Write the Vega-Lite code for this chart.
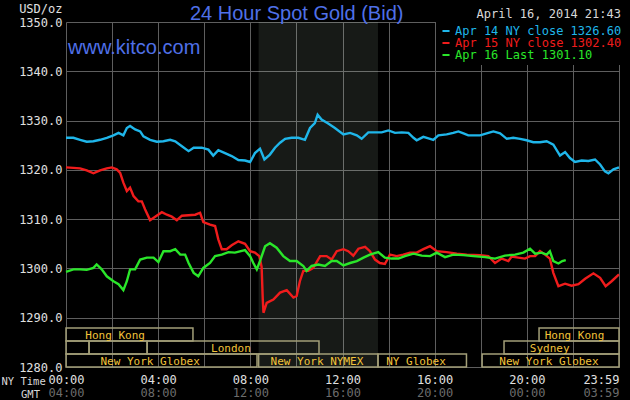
{
  "$schema": "https://vega.github.io/schema/vega-lite/v6.json",
  "width": 553,
  "height": 345,
  "autosize": {"type": "none"},
  "padding": {"left": 66, "top": 22, "right": 11, "bottom": 33},
  "background": "#000000",
  "config": {
    "view": {"stroke": null},
    "axis": {"domain": false, "ticks": false, "tickSize": 0, "labelFont": "DejaVu Sans Mono", "labelFontSize": 12, "titleFont": "DejaVu Sans Mono", "titleFontSize": 12, "titleFontWeight": "normal"}
  },
  "title": {
    "text": "24 Hour Spot Gold (Bid)",
    "font": "Liberation Sans",
    "fontSize": 20,
    "fontWeight": "normal",
    "color": "#4f70e8",
    "anchor": "start",
    "frame": "group",
    "dx": 124,
    "dy": 24,
    "offset": 2
  },
  "datasets": {
    "sessions": [
      {"name": "Hong Kong", "row": "r1", "start": 0, "end": 5.51, "label_at": 2.13},
      {"name": "Hong Kong", "row": "r1", "start": 20.53, "end": 24, "label_at": 22.07},
      {"name": "", "row": "r2", "start": 0, "end": 1.0, "label_at": 0.5},
      {"name": "", "row": "r2", "start": 1.0, "end": 3.52, "label_at": 2.3},
      {"name": "London", "row": "r2", "start": 3.52, "end": 10.98, "label_at": 7.16},
      {"name": "Sydney", "row": "r2", "start": 19.01, "end": 24, "label_at": 20.99},
      {"name": "New York Globex", "row": "r3", "start": 0, "end": 8.29, "label_at": 3.65},
      {"name": "New York NYMEX", "row": "r3", "start": 8.36, "end": 13.54, "label_at": 10.89},
      {"name": "NY Globex", "row": "r3", "start": 13.54, "end": 17.38, "label_at": 15.19},
      {"name": "New York Globex", "row": "r3", "start": 18.06, "end": 24, "label_at": 20.96}
    ],
    "prices": [
      {"d": "Apr 14", "h": 0, "v": 1326.5}, {"d": "Apr 14", "h": 0.32, "v": 1326.5}, {"d": "Apr 14", "h": 0.61, "v": 1326.1}, {"d": "Apr 14", "h": 0.9, "v": 1325.7}, {"d": "Apr 14", "h": 1.19, "v": 1325.8}, {"d": "Apr 14", "h": 1.48, "v": 1326.1}, {"d": "Apr 14", "h": 1.77, "v": 1326.5}, {"d": "Apr 14", "h": 2.06, "v": 1327.0}, {"d": "Apr 14", "h": 2.28, "v": 1327.5}, {"d": "Apr 14", "h": 2.49, "v": 1327.0}, {"d": "Apr 14", "h": 2.64, "v": 1328.5}, {"d": "Apr 14", "h": 2.78, "v": 1328.9}, {"d": "Apr 14", "h": 3.0, "v": 1328.2}, {"d": "Apr 14", "h": 3.22, "v": 1327.8}, {"d": "Apr 14", "h": 3.36, "v": 1326.8}, {"d": "Apr 14", "h": 3.65, "v": 1326.1}, {"d": "Apr 14", "h": 3.94, "v": 1325.7}, {"d": "Apr 14", "h": 4.23, "v": 1325.8}, {"d": "Apr 14", "h": 4.52, "v": 1326.1}, {"d": "Apr 14", "h": 4.74, "v": 1325.8}, {"d": "Apr 14", "h": 5.03, "v": 1324.8}, {"d": "Apr 14", "h": 5.32, "v": 1323.8}, {"d": "Apr 14", "h": 5.54, "v": 1324.5}, {"d": "Apr 14", "h": 5.89, "v": 1324.5}, {"d": "Apr 14", "h": 6.18, "v": 1324.1}, {"d": "Apr 14", "h": 6.39, "v": 1322.9}, {"d": "Apr 14", "h": 6.61, "v": 1324.0}, {"d": "Apr 14", "h": 6.9, "v": 1323.4}, {"d": "Apr 14", "h": 7.19, "v": 1322.8}, {"d": "Apr 14", "h": 7.48, "v": 1322.0}, {"d": "Apr 14", "h": 7.77, "v": 1321.9}, {"d": "Apr 14", "h": 7.99, "v": 1321.6}, {"d": "Apr 14", "h": 8.2, "v": 1323.4}, {"d": "Apr 14", "h": 8.42, "v": 1324.3}, {"d": "Apr 14", "h": 8.61, "v": 1322.1}, {"d": "Apr 14", "h": 8.85, "v": 1323.1}, {"d": "Apr 14", "h": 9.07, "v": 1324.5}, {"d": "Apr 14", "h": 9.29, "v": 1325.5}, {"d": "Apr 14", "h": 9.51, "v": 1326.3}, {"d": "Apr 14", "h": 9.79, "v": 1326.5}, {"d": "Apr 14", "h": 10.08, "v": 1326.5}, {"d": "Apr 14", "h": 10.37, "v": 1326.1}, {"d": "Apr 14", "h": 10.59, "v": 1328.5}, {"d": "Apr 14", "h": 10.8, "v": 1329.5}, {"d": "Apr 14", "h": 10.92, "v": 1331.2}, {"d": "Apr 14", "h": 11.09, "v": 1330.2}, {"d": "Apr 14", "h": 11.38, "v": 1329.4}, {"d": "Apr 14", "h": 11.67, "v": 1328.5}, {"d": "Apr 14", "h": 12.04, "v": 1327.2}, {"d": "Apr 14", "h": 12.33, "v": 1327.5}, {"d": "Apr 14", "h": 12.62, "v": 1327.0}, {"d": "Apr 14", "h": 12.83, "v": 1326.3}, {"d": "Apr 14", "h": 13.12, "v": 1327.6}, {"d": "Apr 14", "h": 13.41, "v": 1327.6}, {"d": "Apr 14", "h": 13.7, "v": 1327.6}, {"d": "Apr 14", "h": 13.99, "v": 1328.0}, {"d": "Apr 14", "h": 14.28, "v": 1327.5}, {"d": "Apr 14", "h": 14.57, "v": 1327.6}, {"d": "Apr 14", "h": 14.86, "v": 1327.5}, {"d": "Apr 14", "h": 15.08, "v": 1326.5}, {"d": "Apr 14", "h": 15.22, "v": 1326.0}, {"d": "Apr 14", "h": 15.51, "v": 1326.7}, {"d": "Apr 14", "h": 15.8, "v": 1326.3}, {"d": "Apr 14", "h": 15.94, "v": 1326.1}, {"d": "Apr 14", "h": 16.16, "v": 1327.0}, {"d": "Apr 14", "h": 16.52, "v": 1327.2}, {"d": "Apr 14", "h": 16.81, "v": 1327.5}, {"d": "Apr 14", "h": 17.03, "v": 1327.8}, {"d": "Apr 14", "h": 17.25, "v": 1327.4}, {"d": "Apr 14", "h": 17.46, "v": 1327.0}, {"d": "Apr 14", "h": 17.97, "v": 1327.0}, {"d": "Apr 14", "h": 18.33, "v": 1327.5}, {"d": "Apr 14", "h": 18.55, "v": 1327.8}, {"d": "Apr 14", "h": 18.84, "v": 1327.4}, {"d": "Apr 14", "h": 19.13, "v": 1326.3}, {"d": "Apr 14", "h": 19.41, "v": 1326.5}, {"d": "Apr 14", "h": 19.71, "v": 1326.3}, {"d": "Apr 14", "h": 19.99, "v": 1326.0}, {"d": "Apr 14", "h": 20.28, "v": 1325.6}, {"d": "Apr 14", "h": 20.57, "v": 1325.6}, {"d": "Apr 14", "h": 20.86, "v": 1325.8}, {"d": "Apr 14", "h": 21.15, "v": 1325.1}, {"d": "Apr 14", "h": 21.44, "v": 1322.9}, {"d": "Apr 14", "h": 21.66, "v": 1323.6}, {"d": "Apr 14", "h": 21.87, "v": 1322.4}, {"d": "Apr 14", "h": 22.09, "v": 1321.6}, {"d": "Apr 14", "h": 22.38, "v": 1321.9}, {"d": "Apr 14", "h": 22.67, "v": 1321.8}, {"d": "Apr 14", "h": 22.96, "v": 1322.1}, {"d": "Apr 14", "h": 23.18, "v": 1321.1}, {"d": "Apr 14", "h": 23.39, "v": 1319.7}, {"d": "Apr 14", "h": 23.54, "v": 1319.3}, {"d": "Apr 14", "h": 23.76, "v": 1320.1}, {"d": "Apr 14", "h": 24.0, "v": 1320.5},
      {"d": "Apr 15", "h": 0, "v": 1320.5}, {"d": "Apr 15", "h": 0.32, "v": 1320.4}, {"d": "Apr 15", "h": 0.61, "v": 1320.3}, {"d": "Apr 15", "h": 0.9, "v": 1319.9}, {"d": "Apr 15", "h": 1.19, "v": 1319.3}, {"d": "Apr 15", "h": 1.48, "v": 1319.9}, {"d": "Apr 15", "h": 1.77, "v": 1320.3}, {"d": "Apr 15", "h": 1.99, "v": 1320.5}, {"d": "Apr 15", "h": 2.2, "v": 1320.1}, {"d": "Apr 15", "h": 2.35, "v": 1319.4}, {"d": "Apr 15", "h": 2.49, "v": 1317.4}, {"d": "Apr 15", "h": 2.64, "v": 1315.7}, {"d": "Apr 15", "h": 2.78, "v": 1316.4}, {"d": "Apr 15", "h": 2.93, "v": 1314.7}, {"d": "Apr 15", "h": 3.14, "v": 1313.6}, {"d": "Apr 15", "h": 3.29, "v": 1313.6}, {"d": "Apr 15", "h": 3.43, "v": 1312.0}, {"d": "Apr 15", "h": 3.65, "v": 1309.8}, {"d": "Apr 15", "h": 3.87, "v": 1310.5}, {"d": "Apr 15", "h": 4.16, "v": 1311.4}, {"d": "Apr 15", "h": 4.38, "v": 1310.9}, {"d": "Apr 15", "h": 4.59, "v": 1310.5}, {"d": "Apr 15", "h": 4.81, "v": 1309.8}, {"d": "Apr 15", "h": 5.03, "v": 1310.7}, {"d": "Apr 15", "h": 5.32, "v": 1310.8}, {"d": "Apr 15", "h": 5.61, "v": 1310.9}, {"d": "Apr 15", "h": 5.82, "v": 1311.3}, {"d": "Apr 15", "h": 5.96, "v": 1309.4}, {"d": "Apr 15", "h": 6.25, "v": 1308.9}, {"d": "Apr 15", "h": 6.47, "v": 1308.6}, {"d": "Apr 15", "h": 6.61, "v": 1305.9}, {"d": "Apr 15", "h": 6.76, "v": 1303.9}, {"d": "Apr 15", "h": 6.97, "v": 1303.9}, {"d": "Apr 15", "h": 7.19, "v": 1304.7}, {"d": "Apr 15", "h": 7.48, "v": 1305.5}, {"d": "Apr 15", "h": 7.77, "v": 1305.0}, {"d": "Apr 15", "h": 7.99, "v": 1303.5}, {"d": "Apr 15", "h": 8.2, "v": 1303.2}, {"d": "Apr 15", "h": 8.39, "v": 1302.5}, {"d": "Apr 15", "h": 8.49, "v": 1300.3}, {"d": "Apr 15", "h": 8.54, "v": 1293.7}, {"d": "Apr 15", "h": 8.57, "v": 1291.0}, {"d": "Apr 15", "h": 8.71, "v": 1293.0}, {"d": "Apr 15", "h": 9.0, "v": 1293.7}, {"d": "Apr 15", "h": 9.29, "v": 1295.1}, {"d": "Apr 15", "h": 9.58, "v": 1295.6}, {"d": "Apr 15", "h": 9.87, "v": 1294.1}, {"d": "Apr 15", "h": 10.01, "v": 1294.4}, {"d": "Apr 15", "h": 10.15, "v": 1297.4}, {"d": "Apr 15", "h": 10.3, "v": 1299.5}, {"d": "Apr 15", "h": 10.52, "v": 1299.5}, {"d": "Apr 15", "h": 10.73, "v": 1300.1}, {"d": "Apr 15", "h": 11.03, "v": 1302.5}, {"d": "Apr 15", "h": 11.31, "v": 1302.5}, {"d": "Apr 15", "h": 11.53, "v": 1301.8}, {"d": "Apr 15", "h": 11.75, "v": 1303.5}, {"d": "Apr 15", "h": 12.04, "v": 1303.9}, {"d": "Apr 15", "h": 12.25, "v": 1303.5}, {"d": "Apr 15", "h": 12.47, "v": 1302.6}, {"d": "Apr 15", "h": 12.69, "v": 1304.0}, {"d": "Apr 15", "h": 12.98, "v": 1304.4}, {"d": "Apr 15", "h": 13.19, "v": 1303.5}, {"d": "Apr 15", "h": 13.41, "v": 1301.8}, {"d": "Apr 15", "h": 13.62, "v": 1301.1}, {"d": "Apr 15", "h": 13.84, "v": 1300.9}, {"d": "Apr 15", "h": 14.06, "v": 1302.8}, {"d": "Apr 15", "h": 14.35, "v": 1302.5}, {"d": "Apr 15", "h": 14.64, "v": 1302.8}, {"d": "Apr 15", "h": 14.93, "v": 1303.2}, {"d": "Apr 15", "h": 15.22, "v": 1303.2}, {"d": "Apr 15", "h": 15.51, "v": 1303.9}, {"d": "Apr 15", "h": 15.8, "v": 1304.5}, {"d": "Apr 15", "h": 16.09, "v": 1303.5}, {"d": "Apr 15", "h": 16.52, "v": 1303.3}, {"d": "Apr 15", "h": 16.96, "v": 1303.0}, {"d": "Apr 15", "h": 17.39, "v": 1302.8}, {"d": "Apr 15", "h": 17.97, "v": 1302.7}, {"d": "Apr 15", "h": 18.33, "v": 1302.5}, {"d": "Apr 15", "h": 18.62, "v": 1301.1}, {"d": "Apr 15", "h": 18.91, "v": 1302.0}, {"d": "Apr 15", "h": 19.2, "v": 1301.5}, {"d": "Apr 15", "h": 19.34, "v": 1302.4}, {"d": "Apr 15", "h": 19.63, "v": 1302.2}, {"d": "Apr 15", "h": 19.92, "v": 1302.0}, {"d": "Apr 15", "h": 20.14, "v": 1302.5}, {"d": "Apr 15", "h": 20.36, "v": 1302.5}, {"d": "Apr 15", "h": 20.57, "v": 1303.5}, {"d": "Apr 15", "h": 20.79, "v": 1302.8}, {"d": "Apr 15", "h": 21.0, "v": 1302.0}, {"d": "Apr 15", "h": 21.15, "v": 1299.1}, {"d": "Apr 15", "h": 21.37, "v": 1296.4}, {"d": "Apr 15", "h": 21.66, "v": 1296.9}, {"d": "Apr 15", "h": 21.94, "v": 1296.5}, {"d": "Apr 15", "h": 22.24, "v": 1296.8}, {"d": "Apr 15", "h": 22.53, "v": 1297.9}, {"d": "Apr 15", "h": 22.89, "v": 1299.0}, {"d": "Apr 15", "h": 23.18, "v": 1298.1}, {"d": "Apr 15", "h": 23.42, "v": 1296.4}, {"d": "Apr 15", "h": 23.68, "v": 1297.4}, {"d": "Apr 15", "h": 24.0, "v": 1298.8},
      {"d": "Apr 16", "h": 0, "v": 1299.3}, {"d": "Apr 16", "h": 0.32, "v": 1299.8}, {"d": "Apr 16", "h": 0.61, "v": 1299.8}, {"d": "Apr 16", "h": 0.9, "v": 1299.7}, {"d": "Apr 16", "h": 1.19, "v": 1300.1}, {"d": "Apr 16", "h": 1.33, "v": 1300.8}, {"d": "Apr 16", "h": 1.55, "v": 1299.8}, {"d": "Apr 16", "h": 1.77, "v": 1298.4}, {"d": "Apr 16", "h": 2.06, "v": 1297.4}, {"d": "Apr 16", "h": 2.28, "v": 1296.8}, {"d": "Apr 16", "h": 2.49, "v": 1295.6}, {"d": "Apr 16", "h": 2.64, "v": 1297.4}, {"d": "Apr 16", "h": 2.78, "v": 1299.8}, {"d": "Apr 16", "h": 3.0, "v": 1299.8}, {"d": "Apr 16", "h": 3.22, "v": 1301.8}, {"d": "Apr 16", "h": 3.51, "v": 1302.2}, {"d": "Apr 16", "h": 3.8, "v": 1302.2}, {"d": "Apr 16", "h": 4.01, "v": 1301.3}, {"d": "Apr 16", "h": 4.23, "v": 1303.5}, {"d": "Apr 16", "h": 4.52, "v": 1303.5}, {"d": "Apr 16", "h": 4.74, "v": 1303.9}, {"d": "Apr 16", "h": 4.96, "v": 1302.8}, {"d": "Apr 16", "h": 5.17, "v": 1302.8}, {"d": "Apr 16", "h": 5.32, "v": 1301.1}, {"d": "Apr 16", "h": 5.54, "v": 1299.1}, {"d": "Apr 16", "h": 5.74, "v": 1298.4}, {"d": "Apr 16", "h": 5.96, "v": 1300.1}, {"d": "Apr 16", "h": 6.25, "v": 1301.1}, {"d": "Apr 16", "h": 6.47, "v": 1302.5}, {"d": "Apr 16", "h": 6.76, "v": 1302.8}, {"d": "Apr 16", "h": 7.05, "v": 1303.3}, {"d": "Apr 16", "h": 7.33, "v": 1303.2}, {"d": "Apr 16", "h": 7.77, "v": 1303.7}, {"d": "Apr 16", "h": 7.99, "v": 1302.5}, {"d": "Apr 16", "h": 8.13, "v": 1301.1}, {"d": "Apr 16", "h": 8.28, "v": 1299.8}, {"d": "Apr 16", "h": 8.42, "v": 1301.5}, {"d": "Apr 16", "h": 8.64, "v": 1304.5}, {"d": "Apr 16", "h": 8.85, "v": 1305.1}, {"d": "Apr 16", "h": 9.14, "v": 1304.2}, {"d": "Apr 16", "h": 9.43, "v": 1302.5}, {"d": "Apr 16", "h": 9.72, "v": 1301.5}, {"d": "Apr 16", "h": 10.01, "v": 1301.5}, {"d": "Apr 16", "h": 10.3, "v": 1300.5}, {"d": "Apr 16", "h": 10.44, "v": 1299.5}, {"d": "Apr 16", "h": 10.66, "v": 1300.5}, {"d": "Apr 16", "h": 10.95, "v": 1300.8}, {"d": "Apr 16", "h": 11.24, "v": 1300.5}, {"d": "Apr 16", "h": 11.53, "v": 1301.5}, {"d": "Apr 16", "h": 11.75, "v": 1301.5}, {"d": "Apr 16", "h": 12.04, "v": 1300.6}, {"d": "Apr 16", "h": 12.33, "v": 1301.1}, {"d": "Apr 16", "h": 12.62, "v": 1301.5}, {"d": "Apr 16", "h": 12.91, "v": 1302.2}, {"d": "Apr 16", "h": 13.19, "v": 1302.8}, {"d": "Apr 16", "h": 13.55, "v": 1303.3}, {"d": "Apr 16", "h": 13.84, "v": 1302.2}, {"d": "Apr 16", "h": 14.13, "v": 1302.0}, {"d": "Apr 16", "h": 14.43, "v": 1302.0}, {"d": "Apr 16", "h": 14.71, "v": 1302.5}, {"d": "Apr 16", "h": 15.08, "v": 1303.0}, {"d": "Apr 16", "h": 15.44, "v": 1302.6}, {"d": "Apr 16", "h": 15.8, "v": 1302.5}, {"d": "Apr 16", "h": 16.09, "v": 1303.2}, {"d": "Apr 16", "h": 16.45, "v": 1302.3}, {"d": "Apr 16", "h": 16.81, "v": 1302.8}, {"d": "Apr 16", "h": 17.25, "v": 1302.7}, {"d": "Apr 16", "h": 17.68, "v": 1302.5}, {"d": "Apr 16", "h": 18.19, "v": 1302.3}, {"d": "Apr 16", "h": 18.62, "v": 1302.0}, {"d": "Apr 16", "h": 19.05, "v": 1302.6}, {"d": "Apr 16", "h": 19.49, "v": 1302.8}, {"d": "Apr 16", "h": 19.85, "v": 1303.2}, {"d": "Apr 16", "h": 20.14, "v": 1304.0}, {"d": "Apr 16", "h": 20.36, "v": 1303.0}, {"d": "Apr 16", "h": 20.64, "v": 1303.2}, {"d": "Apr 16", "h": 20.86, "v": 1302.8}, {"d": "Apr 16", "h": 21.0, "v": 1303.5}, {"d": "Apr 16", "h": 21.15, "v": 1301.5}, {"d": "Apr 16", "h": 21.37, "v": 1301.0}, {"d": "Apr 16", "h": 21.54, "v": 1301.5}, {"d": "Apr 16", "h": 21.69, "v": 1301.7}
    ]
  },
  "resolve": {"scale": {"y": "independent"}, "axis": {"x": "independent", "y": "independent"}},
  "layer": [
    {
      "data": {"name": "sessions"},
      "transform": [{"filter": "datum.name == 'New York NYMEX'"}],
      "mark": {"type": "rect", "fill": "#e0ffe0", "opacity": 0.1},
      "encoding": {
        "x": {"field": "start", "type": "quantitative", "scale": {"domain": [0, 24], "nice": false, "zero": false},
          "axis": {"orient": "bottom", "offset": 13, "grid": false, "values": [0, 4, 8, 12, 16, 20, 24],
            "labelExpr": "datum.value == 24 ? '03:59' : (((datum.value + 4) % 24) < 10 ? '0' : '') + ((datum.value + 4) % 24) + ':00'",
            "labelColor": "#6c6c6c", "labelPadding": 7, "labelOverlap": false, "labelFlush": false, "labelBound": false,
            "labelAlign": {"condition": {"test": "datum.value == 24", "value": "right"}, "value": "center"},
            "title": "GMT", "titleColor": "#d8d8d8", "titleFontSize": 10.5, "titleAngle": 0, "titleAnchor": null, "titleAlign": "center", "titleBaseline": "middle", "titleX": -36, "titleY": 14}},
        "x2": {"field": "end"}
      }
    },
    {
      "data": {"name": "sessions"},
      "mark": {"type": "rect", "fill": "transparent", "stroke": "#a39f78", "strokeWidth": 1.5},
      "encoding": {
        "x": {"field": "start", "type": "quantitative", "axis": null},
        "x2": {"field": "end"},
        "y": {"field": "row", "type": "ordinal", "axis": null, "scale": {"domain": ["r1", "r2", "r3"], "range": [306, 345], "paddingInner": 0, "paddingOuter": 0}}
      }
    },
    {
      "data": {"name": "sessions"},
      "mark": {"type": "text", "font": "DejaVu Sans Mono", "fontSize": 11, "color": "#f2c33a", "align": "center", "baseline": "middle", "dy": 1},
      "encoding": {
        "x": {"field": "label_at", "type": "quantitative", "axis": null},
        "y": {"field": "row", "type": "ordinal", "axis": null, "scale": {"domain": ["r1", "r2", "r3"], "range": [306, 345], "paddingInner": 0, "paddingOuter": 0}},
        "text": {"field": "name"}
      }
    },
    {
      "data": {"name": "prices"},
      "mark": {"type": "line", "strokeWidth": 2.4, "interpolate": "linear"},
      "encoding": {
        "x": {"field": "h", "type": "quantitative",
          "axis": {"orient": "bottom", "grid": true, "gridColor": "#5e5e5e", "gridWidth": 1, "values": [0, 2, 4, 6, 8, 10, 12, 14, 16, 18, 20, 22, 24],
            "labelExpr": "datum.value == 24 ? '23:59' : (datum.value % 4 == 0 ? (datum.value < 10 ? '0' : '') + datum.value + ':00' : '')",
            "labelColor": "#e0e0e0", "labelPadding": 7, "labelOverlap": false, "labelFlush": false, "labelBound": false,
            "labelAlign": {"condition": {"test": "datum.value == 24", "value": "right"}, "value": "center"},
            "title": "NY Time", "titleColor": "#d8d8d8", "titleFontSize": 10.5, "titleAngle": 0, "titleAnchor": null, "titleAlign": "left", "titleBaseline": "middle", "titleX": -65, "titleY": 14}},
        "y": {"field": "v", "type": "quantitative", "scale": {"domain": [1280, 1350], "nice": false, "zero": false},
          "axis": {"values": [1280, 1290, 1300, 1310, 1320, 1330, 1340, 1350], "format": ".1f", "grid": true, "gridColor": "#5e5e5e", "labelColor": "#e0e0e0", "labelPadding": 4,
            "title": "USD/oz", "titleColor": "#e0e0e0", "titleAngle": 0, "titleAnchor": null, "titleAlign": "right", "titleBaseline": "middle", "titleX": -4, "titleY": -14}},
        "color": {"field": "d", "type": "nominal",
          "scale": {"domain": ["Apr 14", "Apr 15", "Apr 16"], "range": ["#1fb6ea", "#f01c1c", "#2ae62a"]},
          "legend": {"orient": "none", "legendX": 370, "legendY": -17, "fillColor": "#000000", "padding": 4,
            "title": "April 16, 2014 21:43", "titleFont": "DejaVu Sans Mono", "titleFontSize": 12, "titleFontWeight": "normal", "titleColor": "#d8d8d8", "titleAnchor": "end", "titlePadding": 4, "titleLimit": 300,
            "symbolType": "stroke", "symbolSize": 50, "symbolStrokeWidth": 2, "labelOffset": 3, "rowPadding": 0, "labelLimit": 300,
            "labelFont": "DejaVu Sans Mono", "labelFontSize": 12,
            "labelExpr": "datum.value == 'Apr 14' ? 'Apr 14 NY close 1326.60' : datum.value == 'Apr 15' ? 'Apr 15 NY close 1302.40' : 'Apr 16 Last 1301.10'",
            "labelColor": {"expr": "datum.value == 'Apr 14' ? '#1fb6ea' : datum.value == 'Apr 15' ? '#f01c1c' : '#2ae62a'"}}}
      }
    },
    {
      "data": {"values": [{}]},
      "mark": {"type": "text", "text": "www.kitco.com", "font": "Liberation Sans", "fontSize": 20, "color": "#4f70e8", "align": "left", "baseline": "middle"},
      "encoding": {
        "x": {"datum": 0.09, "type": "quantitative", "axis": null},
        "y": {"datum": 1344.7, "type": "quantitative", "axis": null, "scale": {"domain": [1280, 1350], "nice": false, "zero": false}}
      }
    }
  ]
}
